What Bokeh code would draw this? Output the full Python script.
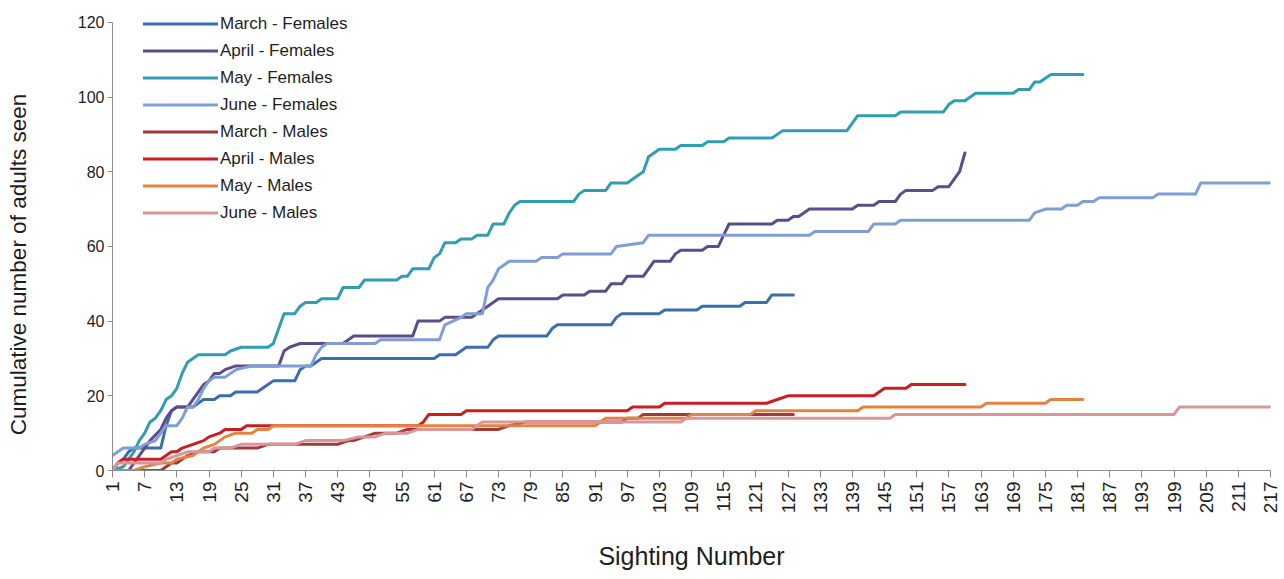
import math
from bokeh.plotting import figure
from bokeh.models import Range1d, FixedTicker, Legend, LegendItem
from bokeh.embed import file_html
from bokeh.resources import INLINE

# ---------------- data (vertices of each cumulative curve) ----------------
x_ticks = list(range(1, 218, 6))
y_ticks = [0, 20, 40, 60, 80, 100, 120]

mar_f_x = [1, 2, 3, 4, 5, 10, 11, 12, 13, 16, 17, 18, 20, 21, 23, 24, 28, 29, 30, 31, 35, 36, 37, 38, 39, 40,
           61, 62, 65, 66, 67, 71, 72, 73, 82, 83, 84, 94, 95, 96, 103, 104, 110, 111, 118, 119, 123, 124, 128]
mar_f_y = [0, 2, 3, 5, 6, 6, 12, 16, 17, 17, 18, 19, 19, 20, 20, 21, 21, 22, 23, 24, 24, 27, 28, 28, 29, 30,
           30, 31, 31, 32, 33, 33, 35, 36, 36, 38, 39, 39, 41, 42, 42, 43, 43, 44, 44, 45, 45, 47, 47]

apr_f_x = [1, 4, 6, 7, 8, 10, 11, 12, 13, 15, 16, 17, 18, 19, 20, 21, 22, 24, 32, 33, 34, 36, 44, 45, 46, 57, 58,
           62, 63, 68, 69, 70, 71, 72, 73, 84, 85, 89, 90, 93, 94, 96, 97, 100, 101, 102, 105, 106, 107, 111,
           112, 114, 115, 116, 124, 125, 127, 128, 129, 130, 131, 139, 140, 143, 144, 147, 148, 149, 154, 155,
           157, 158, 159, 160]
apr_f_y = [0, 0, 4, 6, 8, 11, 14, 16, 17, 17, 19, 21, 23, 24, 26, 26, 27, 28, 28, 32, 33, 34, 34, 35, 36, 36, 40,
           40, 41, 41, 42, 43, 44, 45, 46, 46, 47, 47, 48, 48, 50, 50, 52, 52, 54, 56, 56, 58, 59, 59,
           60, 60, 63, 66, 66, 67, 67, 68, 68, 69, 70, 70, 71, 71, 72, 72, 74, 75, 75, 76,
           76, 78, 80, 85]

may_f_x = [1, 3, 4, 5, 6, 7, 8, 9, 10, 11, 12, 13, 14, 15, 16, 17, 22, 23, 25, 30, 31, 32, 33, 35, 36, 37, 39,
           40, 43, 44, 47, 48, 54, 55, 56, 57, 60, 61, 62, 63, 65, 66, 68, 69, 71, 72, 74, 75, 76, 77, 87, 88,
           89, 93, 94, 97, 98, 99, 100, 101, 102, 103, 106, 107, 111, 112, 115, 116, 124, 125, 126, 138, 139,
           140, 147, 148, 156, 157, 158, 160, 162, 169, 170, 172, 173, 174, 175, 176, 182]
may_f_y = [0, 1, 3, 5, 8, 10, 13, 14, 16, 19, 20, 22, 26, 29, 30, 31, 31, 32, 33, 33, 34, 38, 42, 42, 44, 45, 45,
           46, 46, 49, 49, 51, 51, 52, 52, 54, 54, 57, 58, 61, 61, 62, 62, 63, 63, 66, 66, 69, 71, 72, 72, 74,
           75, 75, 77, 77, 78, 79, 80, 84, 85, 86, 86, 87, 87, 88, 88, 89, 89, 90, 91, 91, 93,
           95, 95, 96, 96, 98, 99, 99, 101, 101, 102, 102, 104, 104, 105, 106, 106]

jun_f_x = [1, 2, 3, 6, 7, 9, 10, 11, 13, 14, 15, 16, 17, 18, 19, 20, 22, 24, 27, 38, 39, 40, 41, 50, 51, 62, 63,
           66, 67, 70, 71, 72, 73, 75, 80, 81, 84, 85, 94, 95, 100, 101, 131, 132, 142, 143, 147, 148, 172, 173,
           175, 178, 179, 181, 182, 184, 185, 195, 196, 203, 204, 217]
jun_f_y = [4, 5, 6, 6, 7, 8, 10, 12, 12, 14, 17, 17, 19, 22, 24, 25, 25, 27, 28, 28, 31, 33, 34, 34, 35, 35, 39,
           41, 42, 42, 49, 51, 54, 56, 56, 57, 57, 58, 58, 60, 61, 63, 63, 64, 64, 66, 66, 67, 67, 69,
           70, 70, 71, 71, 72, 72, 73, 73, 74, 74, 77, 77]

mar_m_x = [1, 10, 11, 12, 13, 14, 15, 17, 20, 21, 28, 30, 43, 45, 46, 48, 50, 54, 56, 73, 75, 78, 96, 97, 99,
           100, 128]
mar_m_y = [0, 0, 1, 2, 2, 3, 4, 5, 5, 6, 6, 7, 7, 8, 8, 9, 10, 10, 11, 11, 12, 13, 13, 14, 14, 15, 15]

apr_m_x = [1, 2, 3, 10, 11, 12, 13, 14, 16, 18, 19, 21, 22, 25, 26, 58, 59, 60, 66, 67, 97, 98, 103, 104, 123,
           125, 127, 143, 145, 149, 150, 160]
apr_m_y = [0, 2, 3, 3, 4, 5, 5, 6, 7, 8, 9, 10, 11, 11, 12, 12, 13, 15, 15, 16, 16, 17, 17, 18, 18,
           19, 20, 20, 22, 22, 23, 23]

may_m_x = [1, 5, 7, 10, 12, 13, 16, 17, 18, 20, 21, 22, 24, 27, 28, 30, 31, 91, 92, 93, 108, 109, 120, 121, 140,
           141, 163, 164, 175, 176, 182]
may_m_y = [0, 0, 1, 2, 2, 3, 4, 5, 6, 7, 8, 9, 10, 10, 11, 11, 12, 12, 13, 14, 14, 15, 15, 16, 16,
           17, 17, 18, 18, 19, 19]

jun_m_x = [1, 2, 10, 11, 13, 15, 19, 20, 23, 25, 35, 37, 44, 47, 50, 52, 56, 58, 68, 69, 70, 107, 108, 146, 147,
           199, 200, 217]
jun_m_y = [0, 2, 2, 3, 4, 5, 5, 6, 6, 7, 7, 8, 8, 9, 9, 10, 10, 11, 11, 12, 13, 13, 14, 14, 15,
           15, 17, 17]

series = [
    ("March - Females", mar_f_x, mar_f_y, "#3B6DAF"),
    ("April - Females", apr_f_x, apr_f_y, "#5E4B8A"),
    ("May - Females", may_f_x, may_f_y, "#319DB3"),
    ("June - Females", jun_f_x, jun_f_y, "#7F9ED5"),
    ("March - Males", mar_m_x, mar_m_y, "#9E3B3A"),
    ("April - Males", apr_m_x, apr_m_y, "#CB1D22"),
    ("May - Males", may_m_x, may_m_y, "#E5823F"),
    ("June - Males", jun_m_x, jun_m_y, "#D8959A"),
]

FONT = "Liberation Sans"
TXT = "#1E1E1E"
AXC = "#8C8C8C"

# the y range runs a little past 120 so that the legend's first row (centred on the
# 120 line, as in the original) is not clipped; the axis line itself stops at 120
p = figure(width=1280, height=574, output_backend="svg", toolbar_location=None,
           x_range=Range1d(1, 217), y_range=Range1d(0, 123.7),
           min_border_left=112, min_border_right=10, min_border_top=8, min_border_bottom=104)
p.outline_line_color = None
p.xgrid.grid_line_color = None
p.ygrid.grid_line_color = None
p.background_fill_color = "white"
p.border_fill_color = "white"

items = []
for name, xs, ys, col in series:
    r = p.line(xs, ys, line_color=col, line_width=3, line_join="round", line_cap="round")
    items.append(LegendItem(label=name, renderers=[r]))

# axes
p.xaxis.ticker = FixedTicker(ticks=x_ticks)
p.xaxis.major_label_orientation = math.pi / 2
p.xaxis.minor_tick_line_color = None
p.xaxis.major_tick_in = 0
p.xaxis.major_tick_out = 7
p.xaxis.major_label_standoff = 4
p.xaxis.axis_label = "Sighting Number"
p.xaxis.axis_label_standoff = 26

p.yaxis.ticker = FixedTicker(ticks=y_ticks)
p.yaxis.bounds = (0, 120)
p.yaxis.minor_tick_line_color = None
p.yaxis.major_tick_in = 0
p.yaxis.major_tick_out = 5
p.yaxis.major_label_standoff = 3
p.yaxis.axis_label = "Cumulative number of adults seen" + "\u00a0" * 8
p.yaxis.axis_label_standoff = 44

for ax in (p.xaxis[0], p.yaxis[0]):
    ax.axis_line_color = AXC
    ax.major_tick_line_color = AXC
    ax.major_label_text_font = FONT
    ax.major_label_text_color = TXT
    ax.axis_label_text_font = FONT
    ax.axis_label_text_font_style = "normal"
    ax.axis_label_text_color = TXT
p.xaxis.major_label_text_font_size = "19px"
p.yaxis.major_label_text_font_size = "16px"
p.xaxis.axis_label_text_font_size = "25px"
p.yaxis.axis_label_text_font_size = "22.5px"

legend = Legend(items=items, location=(31, 244), padding=0, margin=0, spacing=0,
                glyph_width=75, glyph_height=27, label_height=27, label_standoff=2,
                label_text_font=FONT, label_text_font_size="17px", label_text_color=TXT,
                border_line_color=None, background_fill_alpha=0)
p.add_layout(legend, "center")

open("out.html", "w").write(file_html(p, INLINE))
